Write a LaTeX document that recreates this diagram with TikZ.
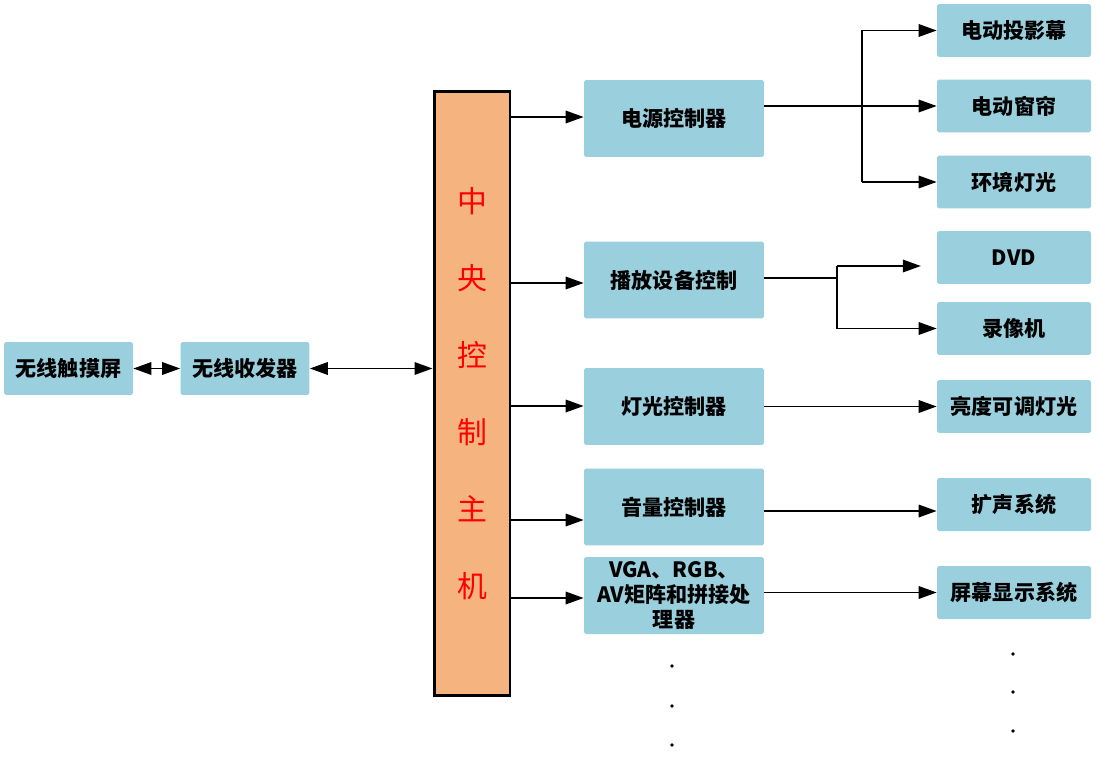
\documentclass[tikz,border=0pt]{standalone}
\usepackage{fontspec}
\setmainfont{Noto Sans CJK SC}
\usetikzlibrary{arrows.meta,positioning}
\definecolor{boxblue}{RGB}{154,208,222}
\definecolor{hubor}{RGB}{245,180,127}
\tikzset{
box/.style={fill=boxblue,rounded corners=1pt,align=center,font=\fontsize{12}{13}\selectfont\bfseries,inner sep=1pt},
midbox/.style={box,minimum width=3.6cm,minimum height=1.54cm},
outbox/.style={box,minimum width=3.08cm,minimum height=1.06cm},
inbox/.style={box,minimum width=2.58cm,minimum height=1.06cm},
arr/.style={line width=1pt,-{Triangle[length=3.6mm,width=2.5mm]}},
darr/.style={line width=1pt,{Triangle[length=3.6mm,width=2.5mm]}-{Triangle[length=3.6mm,width=2.5mm]}},
ln/.style={line width=1pt}
}
\begin{document}
\begin{tikzpicture}[x=0.02cm,y=-0.02cm]
\useasboundingbox (0,0) rectangle (1097,760);
\node[inbox] (touch) at (68.5,368.5) {无线触摸屏};
\node[inbox] (trx) at (245,368.5) {无线收发器};
\node[draw,line width=1.7pt,fill=hubor,minimum width=1.52cm,minimum height=12.1cm,text=red,align=center,font=\fontsize{17}{43.8}\selectfont] (hub) at (472,393.5) {中\\央\\控\\制\\主\\机};
\node[midbox] (pwr) at (674,118.5) {电源控制器};
\node[midbox] (play) at (674,280) {播放设备控制};
\node[midbox] (light) at (674,406.5) {灯光控制器};
\node[midbox,font=\fontsize{12}{14.5}\selectfont\bfseries] (vga) at (674,595.5) {VGA、RGB、\\AV矩阵和拼接处\\理器};
\node[midbox] (vol) at (674,507) {音量控制器};
\node[outbox] (scr) at (1014,30.5) {电动投影幕};
\node[outbox] (curt) at (1014,106) {电动窗帘};
\node[outbox] (amb) at (1014,182) {环境灯光};
\node[outbox] (dvd) at (1014,257.5) {DVD};
\node[outbox] (rec) at (1014,328.5) {录像机};
\node[outbox] (dim) at (1014,406.5) {亮度可调灯光};
\node[outbox] (spk) at (1014,504.5) {扩声系统};
\node[outbox] (disp) at (1014,592.5) {屏幕显示系统};
\coordinate (b1) at (862,106);
\coordinate (b2) at (837,278);
\draw[darr] (touch) -- (trx);
\draw[darr] (trx) -- (hub.west |- trx);
\draw[arr] (hub.east |- 0,117) -- (pwr.west |- 0,117);
\draw[arr] (hub.east |- 0,283) -- (play.west |- 0,283);
\draw[arr] (hub.east |- 0,406) -- (light.west |- 0,406);
\draw[arr] (hub.east |- 0,520) -- (vol.west |- 0,520);
\draw[arr] (hub.east |- 0,598) -- (vga.west |- 0,598);
\draw[ln] (pwr.east |- b1) -- (b1);
\draw[ln] (b1 |- scr) -- (b1 |- amb);
\draw[arr] (b1 |- scr) -- (scr.west);
\draw[arr] (b1) -- (curt.west);
\draw[arr] (b1 |- amb) -- (amb.west);
\draw[ln] (play.east |- b2) -- (b2);
\draw[ln] (b2 |- 0,266) -- (b2 |- rec);
\draw[arr] (b2 |- 0,266) -- ([xshift=-9]dvd.west |- 0,266);
\draw[arr] (b2 |- rec) -- (rec.west);
\draw[arr] (light) -- (dim);
\draw[arr] (vol.east |- 0,511) -- (spk.west |- 0,511);
\draw[arr] (vga.east |- disp) -- (disp.west);
\foreach \y in {666,706,745}
\fill (672,\y) circle (1.1pt);
\foreach \y in {654,692,731}
\fill (1013,\y) circle (1.1pt);
\end{tikzpicture}
\end{document}
